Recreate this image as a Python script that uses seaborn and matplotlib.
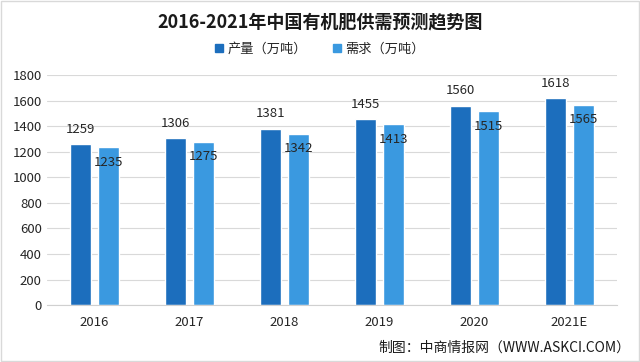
import numpy as np
import pandas as pd
import matplotlib
matplotlib.use('Agg')
import matplotlib.pyplot as plt
import seaborn as sns

# Datos
years = ['2016', '2017', '2018', '2019', '2020', '2021E']
produccion = [1259, 1306, 1381, 1455, 1560, 1618]
demanda = [1235, 1275, 1342, 1413, 1515, 1565]
series = ['产量（万吨）', '需求（万吨）']
colores = ['#1c6ebd', '#3a99e0']

df = pd.DataFrame({
    'year': years * 2,
    'value': produccion + demanda,
    'serie': [series[0]] * len(years) + [series[1]] * len(years),
})

sns.set_style('white')
plt.rcParams['font.family'] = ['Noto Sans CJK SC', 'DejaVu Sans']

fig = plt.figure(figsize=(6.4, 3.62), dpi=100)
ax = fig.add_axes([0.073, 0.157, 0.891, 0.636])

sns.barplot(data=df, x='year', y='value', hue='serie', palette=colores,
            saturation=1, width=0.59, gap=0.25, ax=ax, legend=False)

ax.set_ylim(0, 1800)
ax.set_yticks(range(0, 1801, 200))
ax.set_xlim(-0.5, len(years) - 0.5)
ax.yaxis.grid(True, color='#d9d9d9', linewidth=0.8)
ax.set_axisbelow(True)
for s in ['top', 'right', 'left']:
    ax.spines[s].set_visible(False)
ax.spines['bottom'].set_color('#d0d0d0')
ax.tick_params(axis='both', length=0, labelsize=9.5, colors='#262626')
ax.tick_params(axis='x', pad=8)
ax.set_xlabel('')
ax.set_ylabel('')

# Etiquetas de valores
cont_prod = ax.containers[0]
cont_dem = ax.containers[1]
for bar, v in zip(cont_prod, produccion):
    ax.annotate(str(v), (bar.get_x() + bar.get_width() / 2, v), xytext=(0, 6),
                textcoords='offset points', ha='center', va='bottom',
                fontsize=9.5, color='#262626')
for bar, v in zip(cont_dem, demanda):
    ax.annotate(str(v), (bar.get_x() + bar.get_width() / 2, v), xytext=(0, -6),
                textcoords='offset points', ha='center', va='top',
                fontsize=9.5, color='#262626')

# Titulo, leyenda y fuente
fig.text(0.5, 0.94, '2016-2021年中国有机肥供需预测趋势图', ha='center', va='center',
         fontsize=13, fontweight='bold', color='#1a1a1a')
handles = [plt.Rectangle((0, 0), 1, 1, color=c) for c in colores]
fig.legend(handles, series, loc='center', bbox_to_anchor=(0.5, 0.865), ncol=2,
           frameon=False, fontsize=9.5, handlelength=0.6, handleheight=0.6,
           handletextpad=0.3, columnspacing=2.0)
fig.text(0.985, 0.04, '制图：中商情报网（WWW.ASKCI.COM）', ha='right', va='center',
         fontsize=10, color='#1a1a1a')

fig.patches.append(plt.Rectangle((0.002, 0.003), 0.996, 0.994, transform=fig.transFigure,
                                 fill=False, edgecolor='#d9d9d9', linewidth=1))

plt.savefig('out.png', dpi=100)
